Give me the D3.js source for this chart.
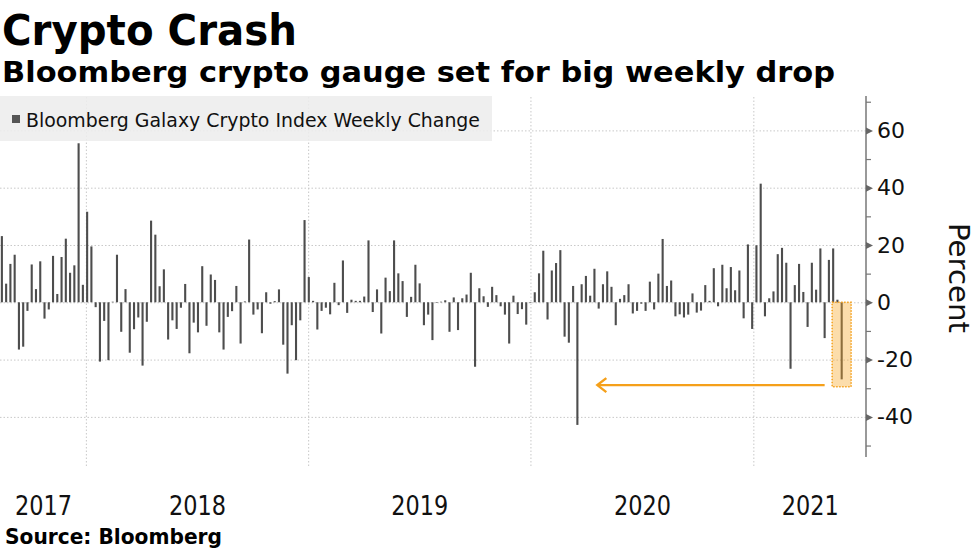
<!DOCTYPE html>
<html>
<head>
<meta charset="utf-8">
<script src="https://cdn.jsdelivr.net/npm/d3@7"></script>
<style>
  body { margin: 0; background: #fff; }
  svg { display: block; font-family: "DejaVu Sans", Verdana, sans-serif; }
</style>
</head>
<body>
<svg width="977" height="549"></svg>
<script>
var firstWeek = "2017-08-16";
var weeklyChange = [
  23.1, 6.5, 13.4, 16.6, -16.5, -15.5, -3, 13.2, 4.6, 14.3,
  -5.7, -2.5, 16.2, 2.9, 15.8, 22.2, 10.3, 12.9, 55.5, 6.1,
  31.6, 19.5, -1.7, -20.7, -6.5, -20.2, 0.2, 16.6, -10.3, 4.6,
  -17.6, -9.4, -5.3, -22.1, -6.8, 28.5, 23.6, 5.6, 11.5, -13,
  -6.3, -9.3, -1.9, 6.4, -17.8, -7.1, -10.5, 12.6, -8.2, 9.7,
  7.8, -10.5, -16.5, -5.1, -3.1, 5.7, -14.4, 0.3, 21.9, -4.3,
  -2.5, -10.8, 3.5, -0.5, 0.4, 4.5, -14.8, -24.9, -8, -20.2,
  -6.3, 28.7, 8.8, 0.5, -9.5, -3, -1.9, -4.2, 6.8, -1,
  14.6, -3.7, 0.9, 0.5, 0.5, 2, 21.6, -3.4, 4.5, -10.9,
  8.6, 3.9, 21.6, 10.1, 7.4, -5.1, 1.9, 13.1, 6.6, -8,
  -4.3, -13.2, -0.1, 0.2, 0.7, -10.3, 1.7, -9.7, 1.4, 2.7,
  10.3, -22.5, 4.9, 2.1, -1.6, 5.4, 2.5, -1.4, -4.3, -14.4,
  2.3, -4.1, -2.4, -7.8, -0.2, 3.5, 10.1, 18, -6, 11.1,
  13.7, 18.2, -12, -14.1, 5.7, -42.8, 6.3, 9.2, 2.3, 11.7,
  -2.2, 6.3, 10.8, 5.4, -8, 1.2, 2.5, 6.3, -3.9, -3,
  -0.5, -3, 7.2, -2.5, 10, 22.1, 5.7, 7.6, -4.9, -4.2,
  -5.3, -4.3, 3.1, -3.6, -2.9, 6, 0.5, 11.9, -1.4, 13.1,
  4.9, 12.3, 4.2, 11.1, -5.6, 20.2, -9.3, 19.9, 41.4, -4.9,
  1.4, 3.8, 16.8, 19, 13.8, -23.2, 6, 13.4, 3.6, -8.6,
  13.8, 4.4, 18.8, -12.5, 14.8, 18.8, 0.9, -26.9
];
var yearLabels = ["2017", "2018", "2019", "2020", "2021"];
var yTicks = [-40, -20, 0, 20, 40, 60];
var yMinorTicks = [-50, -30, -10, 10, 30, 50, 70];
var xDomain = ["2017-08-13", "2021-07-05"];
var yDomain = [-54, 72];

var parse = d3.timeParse("%Y-%m-%d");
var start = parse(firstWeek);
var data = weeklyChange.map(function(v, i) {
  return { date: d3.timeDay.offset(start, 7 * i), value: v };
});

var svg = d3.select("svg");
var plotLeft = 0, plotRight = 866, plotTop = 96, plotBottom = 457;

var x = d3.scaleTime()
  .domain(xDomain.map(parse))
  .range([plotLeft, plotRight]);
var y = d3.scaleLinear()
  .domain(yDomain)
  .range([plotBottom, plotTop]);

// titles
svg.append("text").attr("x", 2).attr("y", 45)
  .attr("font-size", 43).attr("font-weight", "bold").attr("fill", "#000")
  .attr("textLength", 295).attr("lengthAdjust", "spacingAndGlyphs")
  .text("Crypto Crash");
svg.append("text").attr("x", 2).attr("y", 82)
  .attr("font-size", 27.5).attr("font-weight", "bold").attr("fill", "#000")
  .attr("textLength", 833).attr("lengthAdjust", "spacingAndGlyphs")
  .text("Bloomberg crypto gauge set for big weekly drop");

// horizontal grid
svg.append("g")
  .attr("transform", "translate(" + plotLeft + ",0)")
  .call(d3.axisRight(y).tickValues(yTicks).tickSize(plotRight - plotLeft).tickFormat(""))
  .call(function(g) {
    g.select(".domain").remove();
    g.selectAll("line").attr("stroke", "#c8c8c8").attr("stroke-dasharray", "1.5,2");
  });

// vertical grid on year starts
var yearStarts = d3.timeYear.range(x.domain()[0], x.domain()[1]);
svg.append("g")
  .attr("transform", "translate(0," + 466 + ")")
  .call(d3.axisBottom(x).tickValues(yearStarts).tickSize(-(466 - plotTop)).tickFormat(""))
  .call(function(g) {
    g.select(".domain").remove();
    g.selectAll("line").attr("stroke", "#c8c8c8").attr("stroke-dasharray", "1.5,2");
  });

// legend
svg.append("rect").attr("x", 0).attr("y", 96).attr("width", 492).attr("height", 45)
  .attr("fill", "#ededed").attr("opacity", 0.88);
svg.append("rect").attr("x", 12).attr("y", 115).attr("width", 8).attr("height", 8)
  .attr("fill", "#555");
svg.append("text").attr("x", 26).attr("y", 127)
  .attr("font-size", 19).attr("fill", "#111")
  .attr("textLength", 454).attr("lengthAdjust", "spacingAndGlyphs")
  .text("Bloomberg Galaxy Crypto Index Weekly Change");

// bars
svg.append("g").selectAll("rect")
  .data(data)
  .enter()
  .append("rect")
  .attr("x", function(d) { return x(d.date) - 1; })
  .attr("width", 2.1)
  .attr("y", function(d) { return y(Math.max(0, d.value)); })
  .attr("height", function(d) { return Math.max(0.6, Math.abs(y(d.value) - y(0))); })
  .attr("fill", "#4d4d4d");

// highlight of the latest week
var last = data[data.length - 1];
svg.append("rect")
  .attr("x", x(last.date) - 9.5)
  .attr("y", y(0))
  .attr("width", 19)
  .attr("height", y(last.value - 2.6) - y(0))
  .attr("fill", "#f7a523").attr("fill-opacity", 0.38)
  .attr("stroke", "#f5a01a").attr("stroke-width", 1.5).attr("stroke-dasharray", "1.5,1.5");

// arrow back to the 2020 plunge
var low = data[d3.minIndex(data, function(d) { return d.value; })];
var arrowY = y(last.value - 2);
var headX = x(low.date) + 20, tailX = x(last.date) - 17;
svg.append("line")
  .attr("x1", tailX).attr("x2", headX + 1).attr("y1", arrowY).attr("y2", arrowY)
  .attr("stroke", "#f5a01a").attr("stroke-width", 2.4);
svg.append("path")
  .attr("d", "M" + (headX + 9) + "," + (arrowY - 7) + "L" + headX + "," + arrowY + "L" + (headX + 9) + "," + (arrowY + 7))
  .attr("fill", "none").attr("stroke", "#f5a01a").attr("stroke-width", 2.4)
  .attr("stroke-linejoin", "miter");

// right axis
var yAxisG = svg.append("g")
  .attr("transform", "translate(" + plotRight + ",0)")
  .call(d3.axisRight(y).tickValues(yTicks).tickSize(0).tickPadding(11)
    .tickFormat(function(d) { return d < 0 ? "-" + Math.abs(d) : d; }))
  .call(function(g) {
    g.select(".domain").attr("stroke", "#777").attr("stroke-width", 1.5)
      .attr("d", "M0," + plotTop + "V" + plotBottom);
    g.selectAll("text").attr("font-size", 22).attr("fill", "#111")
      .attr("font-family", "DejaVu Sans, sans-serif");
    g.selectAll(".tick").append("path")
      .attr("d", "M0,-3.5L7,0L0,3.5Z").attr("fill", "#666");
  });
svg.append("g")
  .attr("transform", "translate(" + plotRight + ",0)")
  .call(d3.axisRight(y).tickValues(yMinorTicks).tickSize(5).tickFormat(""))
  .call(function(g) {
    g.select(".domain").remove();
    g.selectAll("line").attr("stroke", "#777").attr("stroke-width", 1.2);
  });

svg.append("text")
  .attr("transform", "translate(949,278) rotate(90)")
  .attr("text-anchor", "middle")
  .attr("font-size", 29).attr("fill", "#111")
  .attr("textLength", 110).attr("lengthAdjust", "spacingAndGlyphs")
  .text("Percent");

// year labels centred in each visible year
var labelDates = yearLabels.map(function(yr) {
  var s = Math.max(x(new Date(+yr, 0, 1)), plotLeft);
  var e = Math.min(x(new Date(+yr + 1, 0, 1)), plotRight);
  return x.invert((s + e) / 2);
});
svg.append("g")
  .attr("transform", "translate(0,495)")
  .call(d3.axisBottom(x).tickValues(labelDates).tickSize(0)
    .tickFormat(function(d, i) { return yearLabels[i]; }))
  .call(function(g) {
    g.select(".domain").remove();
    g.selectAll("text").attr("y", 20).attr("dy", null)
      .attr("font-size", 27).attr("fill", "#111")
      .attr("font-family", "DejaVu Sans Condensed, DejaVu Sans, sans-serif")
      .attr("textLength", 57).attr("lengthAdjust", "spacingAndGlyphs");
  });

svg.append("text").attr("x", 5).attr("y", 544)
  .attr("font-size", 21).attr("font-weight", "bold").attr("fill", "#000")
  .attr("textLength", 217).attr("lengthAdjust", "spacingAndGlyphs")
  .text("Source:  Bloomberg");
</script>
</body>
</html>
